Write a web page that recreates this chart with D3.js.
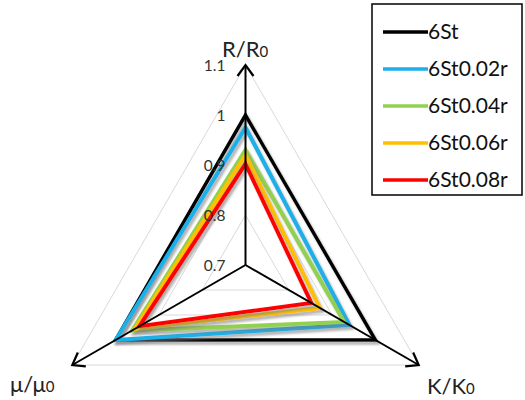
<!DOCTYPE html>
<html>
<head>
<meta charset="utf-8">
<script src="https://cdn.jsdelivr.net/npm/d3@7"></script>
<style>
  body { margin: 0; background: #fff; }
  text { font-family: Lato, "Liberation Sans", sans-serif; }
</style>
</head>
<body>
<svg id="chart" width="525" height="400"></svg>
<script>
// axes, clockwise from the top
var axes = ["R/R0", "K/K0", "μ/μ0"];
var ticks = [0.7, 0.8, 0.9, 1, 1.1];
var seriesNames = ["6St", "6St0.02r", "6St0.04r", "6St0.06r", "6St0.08r"];
var colors = ["#000000", "#1ab0ea", "#92d050", "#ffc000", "#ff0000"];

// values: [R/R0, K/K0, μ/μ0]
var st = [1.0, 1.0, 1.0];
var st002 = [0.975, 0.94, 1.0];
var st004 = [0.93, 0.928, 0.962];
var st006 = [0.92, 0.872, 0.955];
var st008 = [0.902, 0.852, 0.945];
var values = [st, st002, st004, st006, st008];

var svg = d3.select("#chart");
var cx = 245.5, cy = 265;

var rScale = d3.scaleLinear().domain([0.7, 1.1]).range([0, 200]);
var angles = [-90, 30, 150].map(function (a) { return a * Math.PI / 180; });

function pt(v, i) {
    return [cx + rScale(v) * Math.cos(angles[i]), cy + rScale(v) * Math.sin(angles[i])];
}

var defs = svg.append("defs");
defs.append("filter")
    .attr("id", "shadow")
    .attr("x", "-20%").attr("y", "-20%")
    .attr("width", "140%").attr("height", "140%")
    .append("feDropShadow")
    .attr("dx", 2).attr("dy", 3)
    .attr("stdDeviation", 1.2)
    .attr("flood-color", "#777")
    .attr("flood-opacity", 0.55);

defs.append("marker")
    .attr("id", "arrow")
    .attr("viewBox", "0 0 20 20")
    .attr("refX", 14).attr("refY", 10)
    .attr("markerWidth", 20).attr("markerHeight", 20)
    .attr("markerUnits", "userSpaceOnUse")
    .attr("orient", "auto")
    .append("path")
    .attr("d", "M3,2 L14,10 L3,18")
    .attr("fill", "none")
    .attr("stroke", "#000")
    .attr("stroke-width", 2.2);

var line = d3.line().curve(d3.curveLinearClosed);

// gridlines
svg.selectAll(".grid")
    .data(ticks.slice(1))
    .enter()
    .append("path")
    .attr("class", "grid")
    .attr("d", function (t) { return line([0, 1, 2].map(function (i) { return pt(t, i); })); })
    .attr("fill", "none")
    .attr("stroke", "#d9d9d9")
    .attr("stroke-width", 1);

// series
svg.selectAll(".series")
    .data(values)
    .enter()
    .append("path")
    .attr("class", "series")
    .attr("d", function (d) { return line(d.map(function (v, i) { return pt(v, i); })); })
    .attr("fill", "none")
    .attr("stroke", function (d, i) { return colors[i]; })
    .attr("stroke-width", function (d, i) { return i === 0 ? 3.5 : 4; })
    .attr("stroke-linejoin", "miter")
    .attr("filter", "url(#shadow)");

// axis arrows
svg.selectAll(".axis")
    .data(axes)
    .enter()
    .append("line")
    .attr("class", "axis")
    .attr("x1", cx).attr("y1", cy)
    .attr("x2", function (d, i) { return pt(1.1, i)[0]; })
    .attr("y2", function (d, i) { return pt(1.1, i)[1]; })
    .attr("stroke", "#000")
    .attr("stroke-width", 2)
    .attr("marker-end", "url(#arrow)");

// tick labels
svg.selectAll(".tick")
    .data(ticks)
    .enter()
    .append("text")
    .attr("class", "tick")
    .attr("x", cx - 20)
    .attr("y", function (t) { return cy - rScale(t) + 6; })
    .attr("text-anchor", "end")
    .attr("font-size", 15.5)
    .attr("fill", "#333")
    .text(function (t) { return t; });

// axis titles
var titlePos = [[222, 57], [427, 394], [10, 392]];
axes.forEach(function (a, i) {
    var t = svg.append("text")
        .attr("x", titlePos[i][0])
        .attr("y", titlePos[i][1])
        .attr("font-family", "'Liberation Sans', Arial, sans-serif")
        .attr("font-size", 22)
        .attr("fill", "#222");
    t.append("tspan").text(a.slice(0, -1));
    t.append("tspan").attr("font-size", 15).text(a.slice(-1));
});

// legend
var legend = svg.append("g");
legend.append("rect")
    .attr("x", 372).attr("y", 4)
    .attr("width", 150).attr("height", 191)
    .attr("fill", "#fff")
    .attr("stroke", "#000")
    .attr("stroke-width", 1.5);

var rows = legend.selectAll(".row")
    .data(seriesNames)
    .enter()
    .append("g")
    .attr("class", "row")
    .attr("transform", function (d, i) { return "translate(0," + (32 + i * 37) + ")"; });

rows.append("line")
    .attr("x1", 383).attr("x2", 428)
    .attr("stroke", function (d, i) { return colors[i]; })
    .attr("stroke-width", 3.5);

rows.append("text")
    .attr("x", 428)
    .attr("y", 7)
    .attr("font-size", 21)
    .attr("fill", "#111")
    .text(function (d) { return d; });
</script>
</body>
</html>
